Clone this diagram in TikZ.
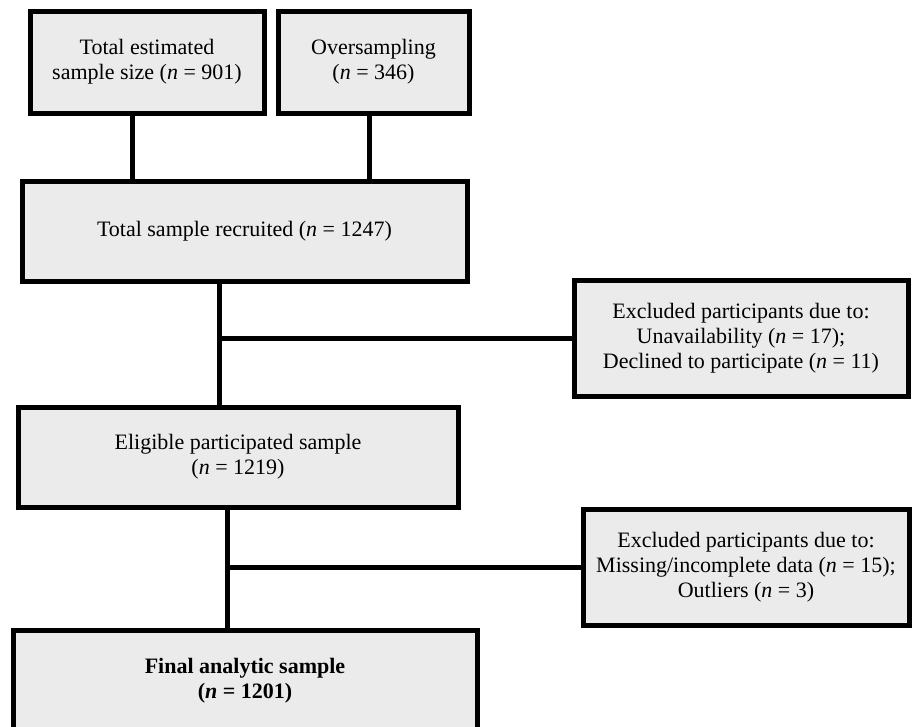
\documentclass[tikz,border=0pt]{standalone}
\usepackage{fontspec}
\setmainfont{Liberation Serif}
\definecolor{boxfill}{HTML}{EBEBEB}
\begin{document}
\begin{tikzpicture}[x=1pt,y=-1pt,
  every node/.style={font=\fontsize{22}{25}\selectfont},
  fbox/.style={draw=black,fill=boxfill,line width=5pt,inner sep=0pt,align=center,rectangle},
  conn/.style={draw=black,line width=5pt}]
\useasboundingbox (0,0) rectangle (912,726);
\clip (0,0) rectangle (912,726);
\node[fbox,minimum width=234pt,minimum height=102pt] (b1) at (147,62) {Total estimated\\sample size (\textit{n} = 901)};
\node[fbox,minimum width=191pt,minimum height=102pt] (b2) at (373.5,62) {Oversampling\\(\textit{n} = 346)};
\node[fbox,minimum width=445pt,minimum height=100pt] (b3) at (244.5,231) {Total sample recruited (\textit{n} = 1247)};
\node[fbox,minimum width=334pt,minimum height=116pt] (ex1) at (741,338) {Excluded participants due to:\\Unavailability (\textit{n} = 17);\\Declined to participate (\textit{n} = 11)};
\node[fbox,minimum width=440pt,minimum height=100pt] (el) at (238,457) {Eligible participated sample\\(\textit{n} = 1219)};
\node[fbox,minimum width=326pt,minimum height=116pt] (ex2) at (746,567) {Excluded participants due to:\\Missing/incomplete data (\textit{n} = 15);\\Outliers (\textit{n} = 3)};
\node[fbox,minimum width=464pt,minimum height=102pt] (fin) at (245,681) {\textbf{Final analytic sample}\\\textbf{(\textit{n} = 1201)}};
\coordinate (c1) at (132,0);
\coordinate (c2) at (369,0);
\coordinate (c3) at (219,0);
\coordinate (c4) at (227,0);
\coordinate (j1) at (219,338);
\coordinate (j2) at (227,567);
\draw[conn] (b1.south -| c1) -- (b3.north -| c1);
\draw[conn] (b2.south -| c2) -- (b3.north -| c2);
\draw[conn] (b3.south -| c3) -- (el.north -| c3);
\draw[conn] (j1) -- (ex1.west);
\draw[conn] (el.south -| c4) -- (fin.north -| c4);
\draw[conn] (j2) -- (ex2.west);
\end{tikzpicture}
\end{document}
